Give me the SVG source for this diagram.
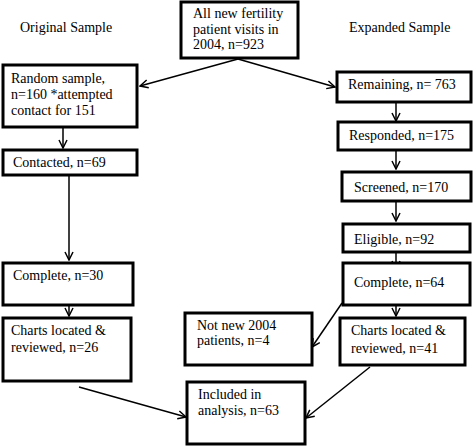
<svg xmlns="http://www.w3.org/2000/svg" width="473" height="447" viewBox="0 0 473 447">
<defs>
<style>
.box{fill:#fff;stroke:#000;stroke-width:3}
text{font-family:"Liberation Serif","Times New Roman",serif;font-size:14px;fill:#000}
.c{fill:none;stroke:#000;stroke-width:1.5}
</style>
<marker id="ah" viewBox="0 0 10 10" refX="9" refY="5" markerWidth="10" markerHeight="10" markerUnits="userSpaceOnUse" orient="auto">
<path d="M1,1 L9,5 L1,9" fill="none" stroke="#000" stroke-width="1.5"/>
</marker>
</defs>
<rect width="473" height="447" fill="#fff"/>
<text x="20" y="32">Original Sample</text>
<text x="349" y="32">Expanded Sample</text>
<g id="connectors">
<line class="c" x1="238" y1="59" x2="140" y2="86" marker-end="url(#ah)"/>
<line class="c" x1="238" y1="59" x2="335" y2="87" marker-end="url(#ah)"/>
<line class="c" x1="63" y1="125" x2="63" y2="148" marker-end="url(#ah)"/>
<line class="c" x1="69" y1="174" x2="69" y2="260" marker-end="url(#ah)"/>
<line class="c" x1="69" y1="297" x2="69" y2="316" marker-end="url(#ah)"/>
<line class="c" x1="79" y1="387" x2="186" y2="417" marker-end="url(#ah)"/>
<line class="c" x1="396" y1="101" x2="396" y2="121" marker-end="url(#ah)"/>
<line class="c" x1="396" y1="147" x2="396" y2="169" marker-end="url(#ah)"/>
<line class="c" x1="396" y1="200" x2="396" y2="221" marker-end="url(#ah)"/>
<line class="c" x1="396" y1="251" x2="396" y2="269" marker-end="url(#ah)"/>
<line class="c" x1="396" y1="297" x2="396" y2="316" marker-end="url(#ah)"/>
<line class="c" x1="342" y1="303" x2="312" y2="347" marker-end="url(#ah)"/>
<line class="c" x1="370" y1="367" x2="306" y2="418" marker-end="url(#ah)"/>
</g>
<g id="n_all"><rect class="box" x="181" y="2" width="117" height="56"/><text x="193" y="18">All new fertility</text><text x="193" y="34">patient visits in</text><text x="193" y="49">2004, n=923</text></g>
<g id="n_random"><rect class="box" x="3" y="65" width="134" height="62"/><text x="11" y="83">Random sample,</text><text x="11" y="99">n=160 *attempted</text><text x="11" y="115">contact for 151</text></g>
<g id="n_contacted"><rect class="box" x="3" y="150" width="134" height="25"/><text x="13" y="167">Contacted, n=69</text></g>
<g id="n_complete_l"><rect class="box" x="3" y="263" width="130" height="42"/><text x="13" y="280">Complete, n=30</text></g>
<g id="n_charts_l"><rect class="box" x="3" y="318" width="128" height="63"/><text x="11" y="335">Charts located &amp;</text><text x="11" y="352">reviewed, n=26</text></g>
<g id="n_remaining"><rect class="box" x="337" y="72" width="134" height="30"/><text x="348" y="89">Remaining, n= 763</text></g>
<g id="n_responded"><rect class="box" x="338" y="122" width="133" height="28"/><text x="349" y="140">Responded, n=175</text></g>
<g id="n_screened"><rect class="box" x="342" y="172" width="129" height="29"/><text x="354" y="192">Screened, n=170</text></g>
<g id="n_eligible"><rect class="box" x="343" y="224" width="127" height="28"/><text x="354" y="244">Eligible, n=92</text></g>
<g id="n_complete_r"><rect class="box" x="343" y="263" width="127" height="42"/><text x="354" y="287">Complete, n=64</text></g>
<g id="n_charts_r"><rect class="box" x="340" y="318" width="125" height="47"/><text x="351" y="335">Charts located &amp;</text><text x="351" y="353">reviewed, n=41</text></g>
<g id="n_notnew"><rect class="box" x="185" y="313" width="127" height="52"/><text x="197" y="330">Not new 2004</text><text x="197" y="345">patients, n=4</text></g>
<g id="n_included"><rect class="box" x="187" y="382" width="118" height="62"/><text x="198" y="399">Included in</text><text x="198" y="415">analysis, n=63</text></g>
</svg>
